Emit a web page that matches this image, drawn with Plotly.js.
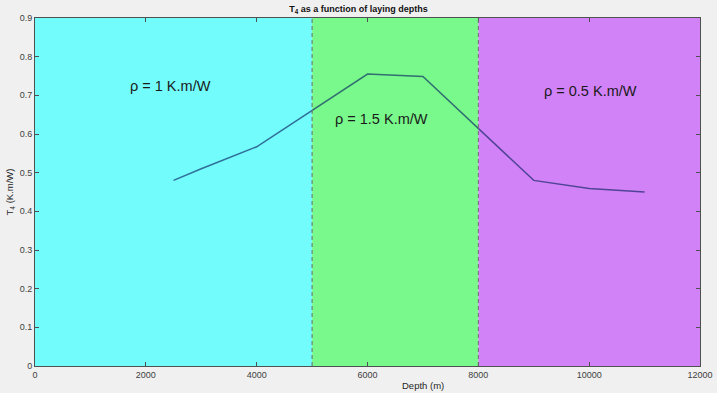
<!DOCTYPE html>
<html>
<head>
<meta charset="utf-8">
<script src="https://cdn.plot.ly/plotly-3.0.1.min.js"></script>
<style>html,body{margin:0;padding:0;background:#f0f0f0;}#chart{width:717px;height:393px;}</style>
</head>
<body>
<div id="chart"></div>
<script>
// Data
const depths = [2500, 3000, 4000, 5000, 6000, 7000, 8000, 9000, 10000, 11000];
const t4Values = [0.480, 0.510, 0.567, 0.660, 0.755, 0.749, 0.615, 0.480, 0.459, 0.450];

const zoneStarts = [0, 5000, 8000];
const zoneEnds = [5000, 8000, 12000];
const zoneColors = ['#73fcfc', '#79f98b', '#d282f7'];
const zoneLabels = ['ρ = 1 K.m/W', 'ρ = 1.5 K.m/W', 'ρ = 0.5 K.m/W'];
const labelX = [2436, 6244, 10015];
const labelY = [0.723, 0.638, 0.711];
const boundaries = [5000, 8000];

const xTicks = [0, 2000, 4000, 6000, 8000, 10000, 12000];
const yTicks = [0, 0.1, 0.2, 0.3, 0.4, 0.5, 0.6, 0.7, 0.8, 0.9];

const shapes = [];
zoneStarts.forEach((s, i) => {
  shapes.push({type: 'rect', xref: 'x', yref: 'y', x0: s, x1: zoneEnds[i], y0: 0, y1: 0.9,
    fillcolor: zoneColors[i], line: {width: 0}, layer: 'below'});
});
boundaries.forEach(b => {
  shapes.push({type: 'line', xref: 'x', yref: 'y', x0: b, x1: b, y0: 0, y1: 0.9,
    line: {color: '#6a6a6a', width: 1, dash: '4px,3px'}, layer: 'above'});
});

const annotations = zoneLabels.map((t, i) => ({
  x: labelX[i], y: labelY[i], xref: 'x', yref: 'y', text: t, showarrow: false,
  font: {family: 'Liberation Sans, Arial, sans-serif', size: 14.5, color: '#1a1a1a'}
}));
annotations.push({
  x: 0.5835, y: -0.034, xref: 'paper', yref: 'paper', xanchor: 'center', yanchor: 'top',
  text: 'Depth (m)', showarrow: false,
  font: {family: 'Liberation Sans, Arial, sans-serif', size: 9.5, color: '#262626'}
});

const trace = {
  x: depths, y: t4Values, type: 'scatter', mode: 'lines',
  line: {color: 'rgb(10,35,100)', width: 1.5}, opacity: 0.65, hoverinfo: 'skip'
};

const axisFont = {family: 'Liberation Sans, Arial, sans-serif', size: 9, color: '#404040'};

const layout = {
  width: 717, height: 393,
  paper_bgcolor: '#f0f0f0', plot_bgcolor: '#ffffff',
  margin: {l: 35, r: 17, t: 17.5, b: 27},
  showlegend: false,
  title: {text: '<b>T<sub>4</sub> as a function of laying depths</b>', x: 0.5, xanchor: 'center', y: 0.985, yanchor: 'top',
    font: {family: 'Liberation Sans, Arial, sans-serif', size: 9, color: '#111'}},
  xaxis: {range: [0, 12000], tickvals: xTicks, ticktext: xTicks.map(String), ticks: 'inside', ticklen: 4,
    tickcolor: '#505050', showgrid: false, zeroline: false, showline: true, linecolor: '#505050', linewidth: 1,
    mirror: 'ticks', tickfont: axisFont},
  yaxis: {range: [0, 0.9], tickvals: yTicks, ticktext: yTicks.map(v => v === 0 ? '0' : v.toFixed(1)), ticks: 'inside', ticklen: 4,
    tickcolor: '#505050', showgrid: false, zeroline: false, showline: true, linecolor: '#505050', linewidth: 1,
    mirror: 'ticks', tickfont: axisFont,
    title: {text: 'T<sub>4</sub> (K.m/W)', standoff: 4, font: {family: 'Liberation Sans, Arial, sans-serif', size: 9.5, color: '#262626'}}},
  shapes: shapes,
  annotations: annotations
};

Plotly.newPlot('chart', [trace], layout, {staticPlot: true, displayModeBar: false});
</script>
</body>
</html>
